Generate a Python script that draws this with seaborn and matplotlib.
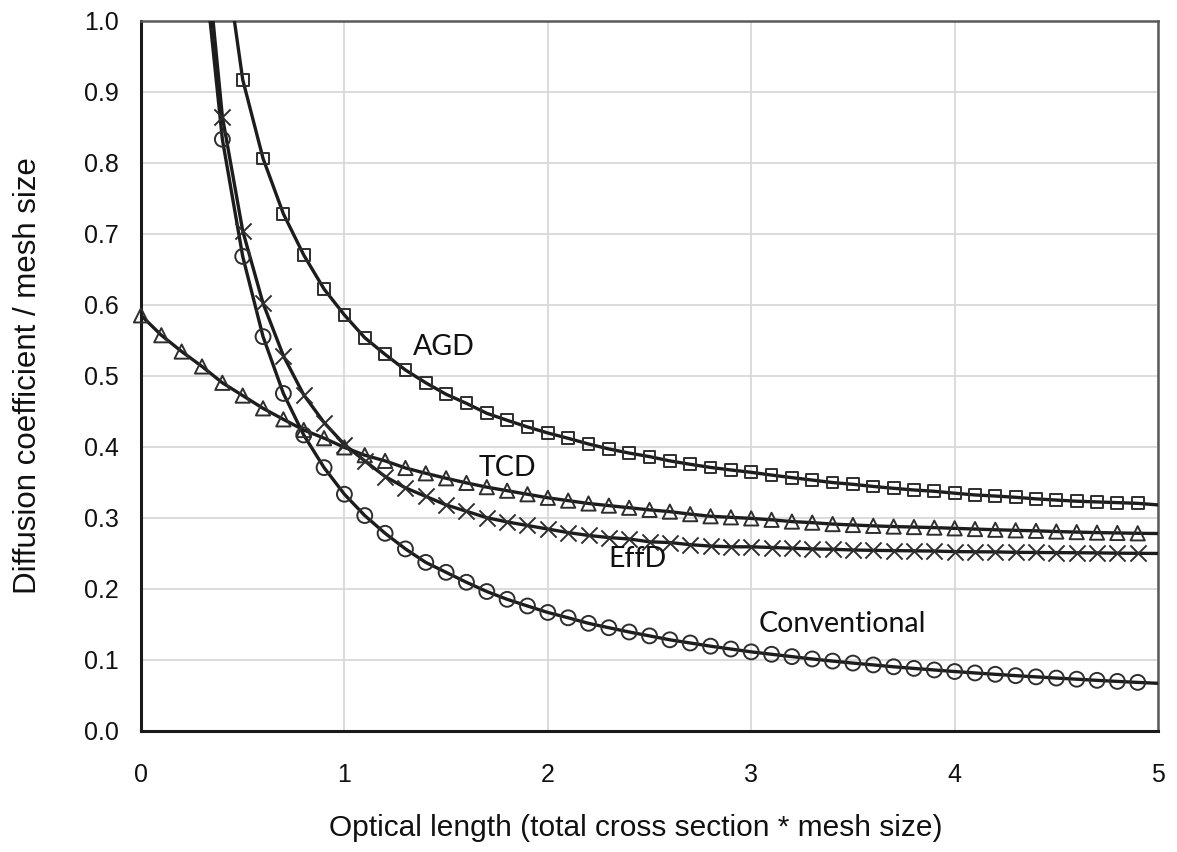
import numpy as np
import pandas as pd
import matplotlib
matplotlib.use("Agg")
import matplotlib.pyplot as plt
import seaborn as sns

# Optical length grid (total cross section * mesh size)
optical_length = [round(0.1 * i, 1) for i in range(51)]

nan = np.nan

# Diffusion coefficient / mesh size for each method
conventional = [nan, nan, nan, 1.110, 0.833, 0.668, 0.555, 0.475, 0.4165, 0.3705,
                0.333, 0.303, 0.278, 0.256, 0.237, 0.223, 0.209, 0.196, 0.185, 0.1756,
                0.1665, 0.159, 0.1512, 0.145, 0.139, 0.1335, 0.128, 0.1235, 0.119, 0.115,
                0.111, 0.1076, 0.1043, 0.101, 0.098, 0.0952, 0.0926, 0.090, 0.0877, 0.0855,
                0.0833, 0.0813, 0.0794, 0.0775, 0.0758, 0.0741, 0.0725, 0.0709, 0.0694, 0.068,
                0.0667]

effd = [nan, nan, nan, 1.160, 0.865, 0.704, 0.602, 0.528, 0.473, 0.434,
        0.403, 0.380, 0.358, 0.342, 0.330, 0.318, 0.309, 0.300, 0.294, 0.289,
        0.284, 0.279, 0.275, 0.272, 0.270, 0.266, 0.265, 0.262, 0.260, 0.259,
        0.259, 0.258, 0.257, 0.256, 0.2555, 0.2545, 0.254, 0.2536, 0.2533, 0.253,
        0.2522, 0.252, 0.2518, 0.2512, 0.251, 0.2508, 0.2506, 0.2504, 0.250, 0.2498,
        0.2496]

tcd = [0.585, 0.557, 0.534, 0.513, 0.490, 0.472, 0.454, 0.4385, 0.4235, 0.412,
       0.399, 0.388, 0.380, 0.370, 0.3625, 0.3555, 0.349, 0.343, 0.338, 0.333,
       0.328, 0.324, 0.320, 0.317, 0.314, 0.311, 0.3085, 0.305, 0.302, 0.3005,
       0.299, 0.297, 0.2945, 0.293, 0.291, 0.2897, 0.2885, 0.2875, 0.2868, 0.286,
       0.285, 0.284, 0.283, 0.2822, 0.2815, 0.2805, 0.2797, 0.279, 0.2785, 0.278,
       0.2777]

agd = [nan, nan, nan, nan, 1.120, 0.917, 0.806, 0.728, 0.670, 0.622,
       0.5855, 0.5535, 0.530, 0.508, 0.490, 0.4738, 0.461, 0.447, 0.4372, 0.4278,
       0.4193, 0.4118, 0.4038, 0.3968, 0.391, 0.386, 0.380, 0.3752, 0.3708, 0.3672,
       0.3639, 0.360, 0.3564, 0.353, 0.3495, 0.347, 0.344, 0.3414, 0.339, 0.3372,
       0.3345, 0.332, 0.3305, 0.3287, 0.3265, 0.3248, 0.3232, 0.3222, 0.3212, 0.3202,
       0.318]

series_names = ["Conventional", "EffD", "TCD", "AGD"]
series_values = [conventional, effd, tcd, agd]
series_markers = ["o", "x", "^", "s"]
series_sizes = [115, 135, 105, 72]

# label text and anchor (data coordinates)
label_text = ["AGD", "TCD", "EffD", "Conventional"]
label_x = [1.49, 1.80, 2.44, 3.45]
label_y = [0.54, 0.370, 0.2415, 0.1496]

x_ticks = [0, 1, 2, 3, 4, 5]
y_ticks = [round(0.1 * i, 1) for i in range(11)]

sns.set_theme(style="white")
plt.rcParams["font.family"] = ["Liberation Sans", "DejaVu Sans"]

fig = plt.figure(figsize=(11.77, 8.52), dpi=100)
ax = fig.add_axes([0.1198, 0.1424, 0.8641, 0.8333])

line_color = "#1c1c1c"
edge_color = "#2e2e2e"

for name, vals, mk, sz in zip(series_names, series_values, series_markers, series_sizes):
    df = pd.DataFrame({"x": optical_length, "y": vals}).dropna()
    sns.lineplot(data=df, x="x", y="y", ax=ax, color=line_color, lw=2.4,
                 estimator=None, sort=True, zorder=3)
    pts = df[(df["x"] < 4.95) & (df["y"] <= 1.0)]
    if mk == "x":
        sns.scatterplot(data=pts, x="x", y="y", ax=ax, marker=mk, s=sz,
                        color=edge_color, linewidth=1.4, zorder=4, clip_on=False)
    else:
        sns.scatterplot(data=pts, x="x", y="y", ax=ax, marker=mk, s=sz,
                        facecolor="none", edgecolor=edge_color, linewidth=1.4,
                        zorder=4, clip_on=False)

for t, tx, ty in zip(label_text, label_x, label_y):
    ax.text(tx, ty, t, ha="center", va="center", fontsize=20.5,
            family=["Lato", "DejaVu Sans"], color="#111111", zorder=5)

ax.set_xlim(0, 5)
ax.set_ylim(0, 1.0)
ax.set_xticks(x_ticks)
ax.set_yticks(y_ticks)
ax.set_xticklabels([str(v) for v in x_ticks])
ax.set_yticklabels([f"{v:.1f}" for v in y_ticks])
ax.tick_params(axis="both", length=0, labelsize=18, colors="#111111")
ax.tick_params(axis="x", pad=23)
ax.tick_params(axis="y", pad=16)

ax.grid(True, color="#d9d9d9", lw=1.3)
ax.set_axisbelow(True)

for side in ["left", "bottom"]:
    ax.spines[side].set_color("#1a1a1a")
    ax.spines[side].set_linewidth(2.2)
for side in ["top", "right"]:
    ax.spines[side].set_color("#5a5a5a")
    ax.spines[side].set_linewidth(1.8)

ax.set_xlabel("Optical length (total cross section * mesh size)", fontsize=21.5,
              color="#111111")
ax.xaxis.set_label_coords(0.486, -0.118)
ax.set_ylabel("Diffusion coefficient / mesh size", fontsize=22.5,
              color="#111111")
ax.yaxis.set_label_coords(-0.096, 0.5)

fig.savefig("out.png", dpi=100)
